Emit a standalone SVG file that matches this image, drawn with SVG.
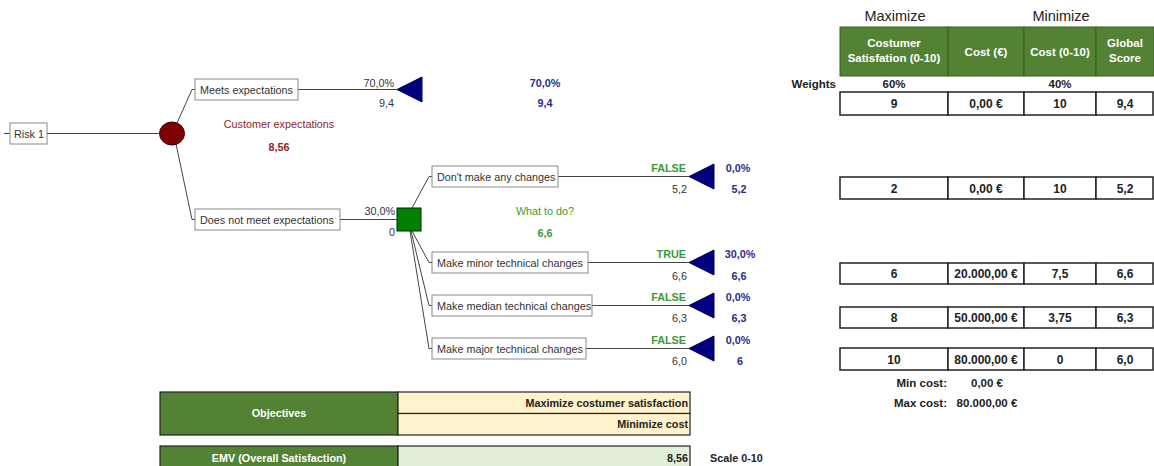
<svg xmlns="http://www.w3.org/2000/svg" width="1154" height="466" viewBox="0 0 1154 466">
<style>
text{font-family:"Liberation Sans",Arial,sans-serif;font-size:10.8px;fill:#333}
.b{font-weight:bold}
.r{text-anchor:end}
.c{text-anchor:middle}
.box{fill:#fff;stroke:#8a8a8a;stroke-width:1}
.ln{fill:none;stroke:#444;stroke-width:1}
.tri{fill:#000080;stroke:#000040;stroke-width:1}
.navy{fill:#2b2b8c;font-weight:bold}
.grn{fill:#3a9a3a}
.red{fill:#8e1f1f}
.hd{fill:#548235;stroke:#3b5e25;stroke-width:1}
.hdt{fill:#fff;font-weight:bold;font-size:11.5px}
.cell{fill:#fff;stroke:#222;stroke-width:1.5}
.v{font-weight:bold;font-size:12px;fill:#222;text-anchor:middle}
.k{font-weight:bold;font-size:11.5px;fill:#222}
.big{font-size:14.5px;fill:#222}
</style>

<g id="connectors">
  <line class="ln" x1="4" y1="133.5" x2="10" y2="133.5"/>
  <line class="ln" x1="47" y1="133.5" x2="160" y2="133.5"/>
  <polyline class="ln" points="177,123 192,89.5 195,89.5"/>
  <polyline class="ln" points="176,144 192,219.5 195,219.5"/>
  <line class="ln" x1="298" y1="89.5" x2="397" y2="89.5"/>
  <line class="ln" x1="340" y1="219.5" x2="397" y2="219.5"/>
  <polyline class="ln" points="412,208 429,176.5 432,176.5"/>
  <polyline class="ln" points="412,231 429,262.5 432,262.5"/>
  <polyline class="ln" points="411,231 429,305.5 432,305.5"/>
  <polyline class="ln" points="410,231 429,348.5 432,348.5"/>
  <line class="ln" x1="558" y1="176.5" x2="689" y2="176.5"/>
  <line class="ln" x1="588" y1="262.5" x2="689" y2="262.5"/>
  <line class="ln" x1="592" y1="305.5" x2="689" y2="305.5"/>
  <line class="ln" x1="586" y1="348.5" x2="689" y2="348.5"/>
</g>

<g id="risk1">
  <rect class="box" x="10" y="123" width="37" height="21"/>
  <text x="14" y="138">Risk 1</text>
</g>

<g id="chance-node">
  <ellipse cx="172" cy="133.5" rx="12.5" ry="11.5" fill="#7f0000" stroke="#3a0000" stroke-width="1"/>
  <text class="c red" x="279" y="128">Customer expectations</text>
  <text class="c red b" x="279" y="151">8,56</text>
</g>

<g id="meets">
  <rect class="box" x="195" y="79" width="103" height="21"/>
  <text x="200" y="94">Meets expectations</text>
  <text class="r" x="394" y="87">70,0%</text>
  <text class="r" x="394" y="107">9,4</text>
  <polygon class="tri" points="397,89.5 422,77 422,102"/>
  <text class="c navy" x="545" y="87">70,0%</text>
  <text class="c navy" x="545" y="107">9,4</text>
</g>

<g id="not-meets">
  <rect class="box" x="195" y="209" width="145" height="21"/>
  <text x="200" y="224">Does not meet expectations</text>
  <text class="r" x="395" y="215">30,0%</text>
  <text class="r" x="395" y="236">0</text>
</g>

<g id="decision-node">
  <rect x="397" y="208" width="24" height="23" fill="#008000" stroke="#002a00" stroke-width="1"/>
  <text class="c grn" x="545" y="215">What to do?</text>
  <text class="c grn b" x="545" y="237">6,6</text>
</g>

<g id="no-change">
  <rect class="box" x="432" y="166" width="126" height="21"/>
  <text x="437" y="181">Don't make any changes</text>
  <text class="r grn b" x="686" y="172">FALSE</text>
  <text class="r" x="687" y="193">5,2</text>
  <polygon class="tri" points="689,176.5 714,164 714,189"/>
  <text class="c navy" x="738" y="172">0,0%</text>
  <text class="c navy" x="739" y="193">5,2</text>
</g>

<g id="minor">
  <rect class="box" x="432" y="252" width="156" height="21"/>
  <text x="437" y="267">Make minor technical changes</text>
  <text class="r grn b" x="686" y="258">TRUE</text>
  <text class="r" x="687" y="280">6,6</text>
  <polygon class="tri" points="689,262.5 714,250 714,275"/>
  <text class="c navy" x="740" y="258">30,0%</text>
  <text class="c navy" x="739" y="280">6,6</text>
</g>

<g id="median">
  <rect class="box" x="432" y="295" width="160" height="21"/>
  <text x="437" y="310">Make median technical changes</text>
  <text class="r grn b" x="686" y="301">FALSE</text>
  <text class="r" x="687" y="322">6,3</text>
  <polygon class="tri" points="689,305.5 714,293 714,318"/>
  <text class="c navy" x="738" y="301">0,0%</text>
  <text class="c navy" x="739" y="322">6,3</text>
</g>

<g id="major">
  <rect class="box" x="432" y="338" width="154" height="21"/>
  <text x="437" y="353">Make major technical changes</text>
  <text class="r grn b" x="686" y="344">FALSE</text>
  <text class="r" x="687" y="365">6,0</text>
  <polygon class="tri" points="689,348.5 714,336 714,361"/>
  <text class="c navy" x="738" y="344">0,0%</text>
  <text class="c navy" x="740" y="365">6</text>
</g>

<g id="score-table">
  <text class="c big" x="895" y="21">Maximize</text>
  <text class="c big" x="1061" y="21">Minimize</text>
  <rect class="hd" x="840" y="27" width="108" height="49"/>
  <rect class="hd" x="948" y="27" width="76" height="49"/>
  <rect class="hd" x="1024" y="27" width="72" height="49"/>
  <rect class="hd" x="1096" y="27" width="58" height="49"/>
  <text class="c hdt" x="894" y="47">Costumer</text>
  <text class="c hdt" x="894" y="62">Satisfation (0-10)</text>
  <text class="c hdt" x="986" y="56">Cost (€)</text>
  <text class="c hdt" x="1060" y="56">Cost (0-10)</text>
  <text class="c hdt" x="1125" y="47">Global</text>
  <text class="c hdt" x="1125" y="62">Score</text>
  <text class="r k" x="836" y="88">Weights</text>
  <text class="c k" x="894" y="88">60%</text>
  <text class="c k" x="1060" y="88">40%</text>
</g>

<g id="row1">
  <rect class="cell" x="840" y="92" width="108" height="23"/><rect class="cell" x="948" y="92" width="76" height="23"/><rect class="cell" x="1024" y="92" width="72" height="23"/><rect class="cell" x="1096" y="92" width="57" height="23"/>
  <text class="v" x="894" y="108">9</text><text class="v" x="986" y="108">0,00 €</text><text class="v" x="1060" y="108">10</text><text class="v" x="1125" y="108">9,4</text>
</g>
<g id="row2">
  <rect class="cell" x="840" y="177" width="108" height="22"/><rect class="cell" x="948" y="177" width="76" height="22"/><rect class="cell" x="1024" y="177" width="72" height="22"/><rect class="cell" x="1096" y="177" width="57" height="22"/>
  <text class="v" x="894" y="192.5">2</text><text class="v" x="986" y="192.5">0,00 €</text><text class="v" x="1060" y="192.5">10</text><text class="v" x="1125" y="192.5">5,2</text>
</g>
<g id="row3">
  <rect class="cell" x="840" y="263" width="108" height="21"/><rect class="cell" x="948" y="263" width="76" height="21"/><rect class="cell" x="1024" y="263" width="72" height="21"/><rect class="cell" x="1096" y="263" width="57" height="21"/>
  <text class="v" x="894" y="278">6</text><text class="v" x="986" y="278">20.000,00 €</text><text class="v" x="1060" y="278">7,5</text><text class="v" x="1125" y="278">6,6</text>
</g>
<g id="row4">
  <rect class="cell" x="840" y="307" width="108" height="21"/><rect class="cell" x="948" y="307" width="76" height="21"/><rect class="cell" x="1024" y="307" width="72" height="21"/><rect class="cell" x="1096" y="307" width="57" height="21"/>
  <text class="v" x="894" y="322">8</text><text class="v" x="986" y="322">50.000,00 €</text><text class="v" x="1060" y="322">3,75</text><text class="v" x="1125" y="322">6,3</text>
</g>
<g id="row5">
  <rect class="cell" x="840" y="348" width="108" height="22"/><rect class="cell" x="948" y="348" width="76" height="22"/><rect class="cell" x="1024" y="348" width="72" height="22"/><rect class="cell" x="1096" y="348" width="57" height="22"/>
  <text class="v" x="894" y="363.5">10</text><text class="v" x="986" y="363.5">80.000,00 €</text><text class="v" x="1060" y="363.5">0</text><text class="v" x="1125" y="363.5">6,0</text>
</g>
<g id="cost-range">
  <text class="r k" x="947" y="387">Min cost:</text>
  <text class="c k" x="987" y="387">0,00 €</text>
  <text class="r k" x="947" y="407">Max cost:</text>
  <text class="c k" x="987" y="407">80.000,00 €</text>
</g>

<g id="objectives">
  <rect x="160" y="392" width="238" height="43" fill="#548235" stroke="#222" stroke-width="1.2"/>
  <rect x="398" y="392" width="292" height="21.5" fill="#fff2cc" stroke="#222" stroke-width="1.2"/>
  <rect x="398" y="413.5" width="292" height="21.5" fill="#fff2cc" stroke="#222" stroke-width="1.2"/>
  <text class="c hdt" x="279" y="417" style="font-size:10.8px">Objectives</text>
  <text class="r b" x="688" y="407" style="fill:#222">Maximize costumer satisfaction</text>
  <text class="r b" x="688" y="428" style="fill:#222">Minimize cost</text>
</g>

<g id="emv">
  <rect x="160" y="446" width="238" height="22" fill="#548235" stroke="#222" stroke-width="1.2"/>
  <rect x="398" y="446" width="292" height="22" fill="#e2efda" stroke="#222" stroke-width="1.2"/>
  <text class="c hdt" x="279" y="462" style="font-size:10.8px">EMV (Overall Satisfaction)</text>
  <text class="r b" x="688" y="462" style="fill:#222">8,56</text>
  <text class="b" x="710" y="462" style="fill:#222">Scale 0-10</text>
</g>
</svg>
